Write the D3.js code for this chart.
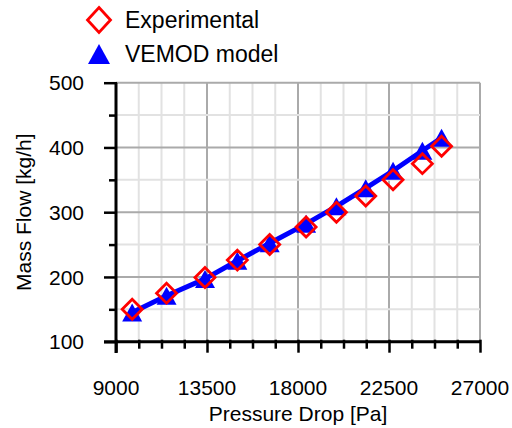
<!DOCTYPE html>
<html>
<head>
<meta charset="utf-8">
<script src="https://cdn.jsdelivr.net/npm/d3@7"></script>
<style>
  html, body { margin: 0; padding: 0; background: #fff; }
  svg { display: block; font-family: "Liberation Sans", Arial, sans-serif; }
</style>
</head>
<body>
<svg id="chart" width="512" height="428"></svg>
<script>
// Pressure drop across the valve [Pa]
const pressureDrop = [9800, 11500, 13400, 15000, 16600, 18400, 19900, 21350, 22700, 24150, 25100];
// Measured mass flow [kg/h]
const experimental = [150, 175, 199, 226, 250, 277, 300, 325, 350, 375, 402];
// Simulated mass flow [kg/h]
const vemodModel = [145, 171, 197, 225, 252, 282, 309, 337, 364, 395, 415];

const xMajorTicks = [9000, 13500, 18000, 22500, 27000];
const yMajorTicks = [100, 200, 300, 400, 500];
const seriesNames = ["Experimental", "VEMOD model"];

const svg = d3.select("#chart");

const x = d3.scaleLinear().domain([9000, 27000]).range([116, 480]);
const y = d3.scaleLinear().domain([100, 500]).range([341.7, 82.7]);

const xMinor = d3.range(9000, 27001, 1125);
const yMinor = d3.range(100, 501, 50);

// grid: light minor lines, then darker major lines
const grid = svg.append("g");
grid.selectAll(".gx").data(xMinor).join("line")
  .attr("x1", d => x(d)).attr("x2", d => x(d))
  .attr("y1", y(100)).attr("y2", y(500))
  .attr("stroke", d => xMajorTicks.includes(d) ? "#aaaaaa" : "#e2e2e2")
  .attr("stroke-width", 2);
grid.selectAll(".gy").data(yMinor).join("line")
  .attr("x1", x(9000)).attr("x2", x(27000))
  .attr("y1", d => y(d)).attr("y2", d => y(d))
  .attr("stroke", d => yMajorTicks.includes(d) ? "#aaaaaa" : "#e2e2e2")
  .attr("stroke-width", 2);

// x axis
const xAxis = d3.axisBottom(x).tickValues(xMinor).tickSize(0).tickFormat("");
const gx = svg.append("g").attr("transform", `translate(0,${y(100)})`).call(xAxis);
gx.select(".domain").remove();
gx.append("line").attr("x1", 104).attr("x2", x(27000)).attr("stroke", "#000").attr("stroke-width", 3);
gx.selectAll(".tick").append("line")
  .attr("y1", -2)
  .attr("y2", d => xMajorTicks.includes(d) ? 11 : 7)
  .attr("stroke", "#000").attr("stroke-width", 2.5);
svg.append("g").selectAll("text").data(xMajorTicks).join("text")
  .attr("x", d => x(d)).attr("y", 395)
  .attr("text-anchor", "middle").attr("font-size", 21).attr("fill", "#000")
  .text(d => d);

// y axis
const yAxis = d3.axisLeft(y).tickValues(yMinor).tickSize(0).tickFormat("");
const gy = svg.append("g").attr("transform", `translate(${x(9000)},0)`).call(yAxis);
gy.select(".domain").remove();
gy.append("line").attr("y1", y(500)).attr("y2", 353).attr("stroke", "#000").attr("stroke-width", 3);
gy.selectAll(".tick").append("line")
  .attr("x1", 1)
  .attr("x2", d => yMajorTicks.includes(d) ? -12 : -7)
  .attr("stroke", "#000").attr("stroke-width", 2.5);
svg.append("g").selectAll("text").data(yMajorTicks).join("text")
  .attr("x", 84).attr("y", d => y(d))
  .attr("dy", "0.36em")
  .attr("text-anchor", "end").attr("font-size", 21).attr("fill", "#000")
  .text(d => d);

// axis titles
svg.append("text")
  .attr("x", (x(9000) + x(27000)) / 2).attr("y", 421)
  .attr("text-anchor", "middle").attr("font-size", 21)
  .text("Pressure Drop [Pa]");
svg.append("text")
  .attr("transform", `translate(31,${(y(100) + y(500)) / 2}) rotate(-90)`)
  .attr("text-anchor", "middle").attr("font-size", 21)
  .text("Mass Flow [kg/h]");

// symbol shapes, centred on their bounding box
const trianglePath = (w, h) => `M0,${-h / 2}L${w / 2},${h / 2}L${-w / 2},${h / 2}Z`;
const diamondPath = (w, h) => `M0,${-h / 2}L${w / 2},0L0,${h / 2}L${-w / 2},0Z`;

const model = pressureDrop.map((p, i) => [p, vemodModel[i]]);
const exp = pressureDrop.map((p, i) => [p, experimental[i]]);

// model line
svg.append("path")
  .datum(model)
  .attr("d", d3.line().x(d => x(d[0])).y(d => y(d[1])))
  .attr("fill", "none").attr("stroke", "#0000ff").attr("stroke-width", 5)
  .attr("stroke-linejoin", "round");

// model markers
svg.append("g").selectAll("path").data(model).join("path")
  .attr("transform", d => `translate(${x(d[0])},${y(d[1])})`)
  .attr("d", trianglePath(20, 18))
  .attr("fill", "#0000ff");

// experimental markers
svg.append("g").selectAll("path").data(exp).join("path")
  .attr("transform", d => `translate(${x(d[0])},${y(d[1])})`)
  .attr("d", diamondPath(20, 20))
  .attr("fill", "none").attr("stroke", "#ff0000").attr("stroke-width", 2.8);

// legend
const legend = svg.append("g");
legend.append("path")
  .attr("transform", "translate(99,20)")
  .attr("d", diamondPath(23, 25))
  .attr("fill", "none").attr("stroke", "#ff0000").attr("stroke-width", 2.8);
legend.append("path")
  .attr("transform", "translate(99,54)")
  .attr("d", trianglePath(22, 20))
  .attr("fill", "#0000ff");
legend.selectAll("text").data(seriesNames).join("text")
  .attr("x", 125).attr("y", (d, i) => 28 + i * 34)
  .attr("font-size", 23).attr("fill", "#000")
  .text(d => d);
</script>
</body>
</html>
